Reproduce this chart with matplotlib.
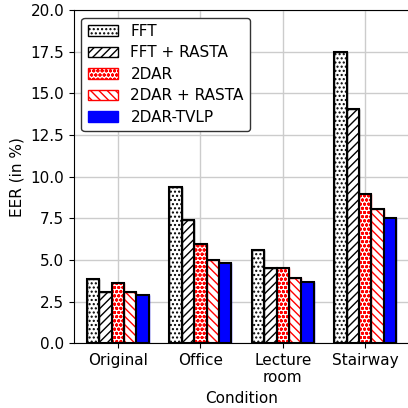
import numpy as np
import matplotlib.pyplot as plt

conditions = ["Original", "Office", "Lecture\nroom", "Stairway"]
methods = ["FFT", "FFT + RASTA", "2DAR", "2DAR + RASTA", "2DAR-TVLP"]

fft = [3.85, 9.35, 5.6, 17.5]
fft_rasta = [3.1, 7.4, 4.5, 14.05]
dar = [3.6, 5.95, 4.5, 8.95]
dar_rasta = [3.05, 5.0, 3.9, 8.05]
tvlp = [2.9, 4.8, 3.65, 7.5]

series = [fft, fft_rasta, dar, dar_rasta, tvlp]
faces = ["white", "white", "white", "white", "blue"]
edges = ["black", "black", "red", "red", "blue"]
hatches = ["....", "////", "oooo", "\\\\\\\\", None]

plt.rcParams["font.size"] = 11

fig = plt.figure(figsize=(4.08, 4.08), dpi=100)
ax = fig.add_axes([0.181, 0.159, 0.822, 0.816])
ax.set_axisbelow(True)
ax.grid(True, color="#cccccc", linewidth=1.0)

x = np.arange(len(conditions))
w = 0.15
for i, vals in enumerate(series):
    pos = x + (i - 2) * w
    ax.bar(pos, vals, w, color=faces[i], edgecolor=edges[i], hatch=hatches[i],
           linewidth=1.0, label=methods[i])
    # black outline on top
    ax.bar(pos, vals, w, fill=False, edgecolor="black", linewidth=1.5)

ax.set_xticks(x)
ax.set_xticklabels(conditions)
ax.set_xlim(-0.535, 3.535)
ax.set_ylim(0, 20)
ax.set_yticks(np.arange(0, 20.1, 2.5))
ax.set_xlabel("Condition")
ax.set_ylabel("EER (in %)")
ax.legend(loc="upper left", edgecolor="0.2", labelspacing=0.42, framealpha=1.0)

fig.savefig("out.png", dpi=100)
